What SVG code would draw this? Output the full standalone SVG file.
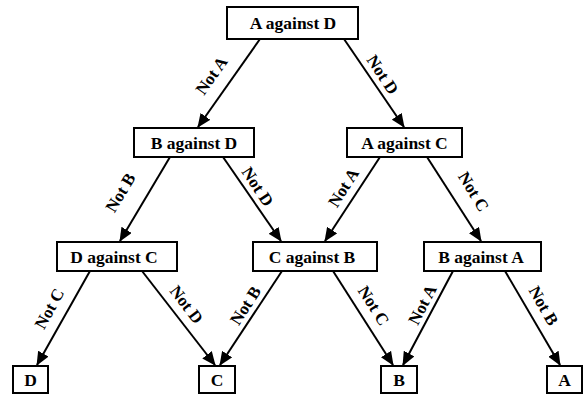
<svg xmlns="http://www.w3.org/2000/svg" width="584" height="395" viewBox="0 0 584 395" font-family="Liberation Serif, Times New Roman, serif">
<style>
.box{fill:#fff;stroke:#000;stroke-width:2}
.t{font-weight:bold;font-size:17.5px;fill:#000;text-anchor:middle}
.e{stroke:#000;stroke-width:2;fill:none;marker-end:url(#ah)}
.l{font-weight:bold;font-size:17px;fill:#000;text-anchor:middle}
</style>
<defs>
<marker id="ah" markerUnits="userSpaceOnUse" markerWidth="14" markerHeight="12" refX="13" refY="6" orient="auto">
<path d="M0,0 L14,6 L0,12 z" fill="#000"/>
</marker>
</defs>
<rect width="584" height="395" fill="#fff"/>
<g id="connectors">
<line class="e" x1="260" y1="39" x2="198" y2="127"/>
<line class="e" x1="344" y1="39" x2="404" y2="127"/>
<line class="e" x1="170" y1="157" x2="120" y2="241"/>
<line class="e" x1="223" y1="157" x2="281" y2="241"/>
<line class="e" x1="380" y1="157" x2="325" y2="241"/>
<line class="e" x1="427" y1="157" x2="481" y2="241"/>
<line class="e" x1="90" y1="271" x2="37" y2="365"/>
<line class="e" x1="142" y1="271" x2="215" y2="365"/>
<line class="e" x1="282" y1="271" x2="220" y2="365"/>
<line class="e" x1="333" y1="271" x2="393" y2="365"/>
<line class="e" x1="453" y1="271" x2="403" y2="365"/>
<line class="e" x1="505" y1="271" x2="560" y2="365"/>
<g id="labels">
<text class="l" transform="translate(212,76) rotate(-54.7)" y="5">Not A</text>
<text class="l" transform="translate(382,75) rotate(56.5)" y="5">Not D</text>
<text class="l" transform="translate(121,193) rotate(-58.8)" y="5">Not B</text>
<text class="l" transform="translate(257,187) rotate(56.5)" y="5">Not D</text>
<text class="l" transform="translate(344,188) rotate(-57.4)" y="5">Not A</text>
<text class="l" transform="translate(473,192) rotate(58.4)" y="5">Not C</text>
<text class="l" transform="translate(50,309) rotate(-61.1)" y="5">Not C</text>
<text class="l" transform="translate(186,305) rotate(52.7)" y="5">Not D</text>
<text class="l" transform="translate(246,306) rotate(-57.1)" y="5">Not B</text>
<text class="l" transform="translate(373,306) rotate(58)" y="5">Not C</text>
<text class="l" transform="translate(423,305) rotate(-62.5)" y="5">Not A</text>
<text class="l" transform="translate(543,306) rotate(60.2)" y="5">Not B</text>
</g>
</g>
<g id="n_AD"><rect class="box" x="227" y="7" width="131" height="32"/><text class="t" x="293" y="29">A against D</text></g>
<g id="n_BD"><rect class="box" x="134" y="128" width="120" height="29"/><text class="t" x="194" y="148.5">B against D</text></g>
<g id="n_AC"><rect class="box" x="347" y="128" width="115" height="29"/><text class="t" x="404.5" y="148.5">A against C</text></g>
<g id="n_DC"><rect class="box" x="57" y="242" width="120" height="29"/><text class="t" x="114" y="262.5">D against C</text></g>
<g id="n_CB"><rect class="box" x="253" y="242" width="124" height="29"/><text class="t" x="312" y="262.5">C against B</text></g>
<g id="n_BA"><rect class="box" x="424" y="242" width="117" height="29"/><text class="t" x="481" y="262.5">B against A</text></g>
<g id="n_D"><rect class="box" x="13" y="366" width="35" height="27"/><text class="t" x="30.5" y="385.5">D</text></g>
<g id="n_C"><rect class="box" x="199" y="366" width="36" height="27"/><text class="t" x="217" y="385.5">C</text></g>
<g id="n_B"><rect class="box" x="381" y="366" width="36" height="27"/><text class="t" x="399" y="385.5">B</text></g>
<g id="n_A"><rect class="box" x="547" y="366" width="35" height="27"/><text class="t" x="564.5" y="385.5">A</text></g>
</svg>
